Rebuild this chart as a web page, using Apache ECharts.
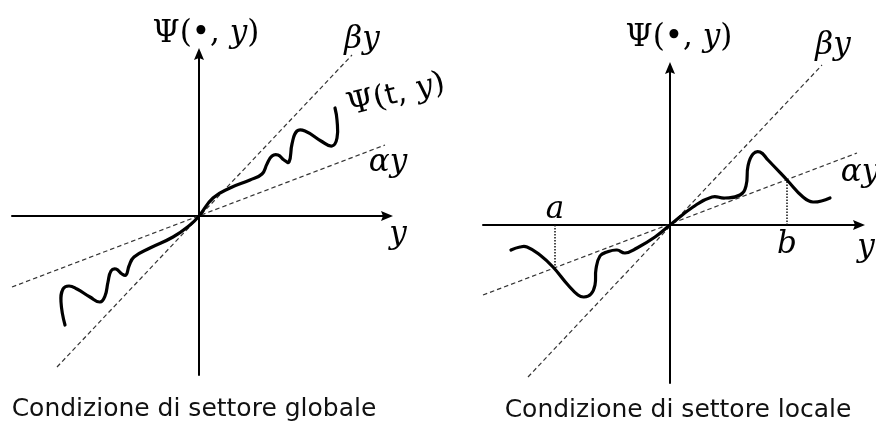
<!DOCTYPE html>
<html>
<head>
<meta charset="utf-8">
<script src="https://cdn.jsdelivr.net/npm/echarts@6/dist/echarts.min.js"></script>
<style>
  html, body { margin: 0; padding: 0; background: #fff; }
  #chart { width: 876px; height: 423px; }
</style>
</head>
<body>
<div id="chart"></div>
<script>
// Sector conditions: global (left) and local (right).
// Units: both panels use the same scale, origin at the axes' crossing.

// ---- global sector panel ----
const globalCurve = [
  [-13.4, -10.9], [-13.8, -8.6], [-13.6, -7.3], [-13.0, -7.0], [-12.2, -7.3],
  [-10.9, -8.1], [-9.9, -8.6], [-9.4, -8.0], [-9.1, -6.6], [-8.8, -5.5],
  [-8.3, -5.3], [-7.7, -5.8], [-7.3, -5.9], [-7.0, -5.0], [-6.5, -4.1],
  [-4.9, -3.2], [-2.6, -2.1], [-0.9, -0.9],
  [0, 0], [1.4, 1.8], [3.1, 2.8], [5.1, 3.6], [6.3, 4.2], [6.8, 5.2],
  [7.3, 6.0], [7.9, 6.1], [8.5, 5.6], [9.0, 5.4], [9.3, 7.2], [9.8, 8.5],
  [10.6, 8.5], [12.2, 7.5], [13.3, 7.0], [13.8, 7.8], [13.8, 9.6], [13.6, 10.8]
];
const globalBeta = [[-14.2, -15.1], [15.3, 16.1]];
const globalAlpha = [[-18.7, -7.1], [18.6, 7.1]];

// ---- local sector panel ----
const localCurve = [
  [-15.9, -2.5], [-15.0, -2.2], [-14.3, -2.2], [-13.0, -3.0], [-11.7, -4.2],
  [-10.2, -6.0], [-9.2, -7.0], [-8.6, -7.2], [-7.9, -6.9], [-7.5, -6.0],
  [-7.4, -4.4], [-7.0, -3.1], [-6.3, -2.7], [-5.3, -2.5], [-4.5, -2.8],
  [-3.3, -2.3], [-1.5, -1.2],
  [0, 0], [2.3, 1.8], [4.2, 2.8], [5.5, 2.7], [7.0, 3.0], [7.6, 3.9],
  [7.8, 5.9], [8.3, 7.1], [9.0, 7.3], [9.8, 6.5], [11.7, 4.5], [13.3, 2.8],
  [14.3, 2.3], [16.0, 2.7]
];
const localBeta = [[-14.2, -15.2], [15.2, 16.0]];
const localAlpha = [[-18.7, -7.0], [18.7, 7.2]];
// sector bounds a, b and where alpha*y meets them
const sectorA = -11.5, sectorACross = -4.3;
const sectorB = 11.7, sectorBCross = 4.5;

// ---- text ----
const captions = ['Condizione di settore globale', 'Condizione di settore locale'];

const MATH = '"DejaVu Serif", "Liberation Serif", serif';
const SANS = '"DejaVu Sans", Verdana, sans-serif';

const rich = {
  u: { fontFamily: MATH, fontSize: 31, color: '#000' },
  i: { fontFamily: MATH, fontSize: 31, fontStyle: 'italic', color: '#000' },
  s: { fontFamily: SANS, fontSize: 29, color: '#000' }
};

// label anchors, in panel units
function mathLabels(items) {
  return items.map(it => ({
    value: it.at,
    label: {
      show: true, position: 'inside', formatter: it.text,
      color: '#000', textBorderWidth: 0,
      rotate: it.rotate || 0, rich: rich
    }
  }));
}

const globalLabels = mathLabels([
  { at: [0.7, 18.2], text: '{u|Ψ(•, }{i|y}{u|)}' },
  { at: [16.3, 17.6], text: '{i|βy}' },
  { at: [19.7, 12.1], text: '{u|Ψ(}{s|t}{u|, }{i|y}{u|)}', rotate: 14 },
  { at: [18.9, 5.3], text: '{i|αy}' },
  { at: [19.9, -1.9], text: '{i|y}' }
]);
const localLabels = mathLabels([
  { at: [0.9, 18.7], text: '{u|Ψ(•, }{i|y}{u|)}' },
  { at: [16.3, 17.9], text: '{i|βy}' },
  { at: [19.0, 5.2], text: '{i|αy}' },
  { at: [19.6, -2.3], text: '{i|y}' },
  { at: [sectorA, 1.5], text: '{i|a}' },
  { at: [sectorB, -2.0], text: '{i|b}' }
]);

const ARROW = 'path://M5,0L10,12L5,10L0,12Z';

function axisBase(gridIndex) {
  return {
    type: 'value', gridIndex: gridIndex,
    axisLine: {
      show: true, onZero: true,
      symbol: ['none', ARROW], symbolSize: [10, 13],
      lineStyle: { color: '#000', width: 2 }
    },
    axisTick: { show: false }, axisLabel: { show: false },
    splitLine: { show: false }
  };
}

const xBounds = [[-18.7, 18.8], [-18.7, 18.9]];
const yBounds = [[-15.9, 16.2], [-15.8, 15.7]];

const chart = echarts.init(document.getElementById('chart'), null, { renderer: 'canvas' });

function dashLine(data, gi) {
  return {
    type: 'line', xAxisIndex: gi, yAxisIndex: gi, data: data,
    showSymbol: false, symbol: 'none', silent: true, clip: false,
    lineStyle: { color: '#333', width: 1.2, type: [4.5, 3] }, z: 2
  };
}
// wavy response curve: one smooth polyline through all points, placed by the axes
function curve(data, gi) {
  return {
    type: 'custom', xAxisIndex: gi, yAxisIndex: gi, data: data,
    silent: true, clip: false, z: 3,
    encode: { x: 0, y: 1 },
    renderItem: function (params, api) {
      if (params.dataIndex !== 0) return null;
      const pts = data.map(p => api.coord(p));
      return {
        type: 'polyline',
        shape: { points: pts, smooth: 0.45 },
        style: { stroke: '#000', lineWidth: 3.2, fill: null, lineCap: 'round', lineJoin: 'round' }
      };
    }
  };
}
function dotted(data, gi) {
  return {
    type: 'line', xAxisIndex: gi, yAxisIndex: gi, data: data,
    showSymbol: false, symbol: 'none', silent: true, clip: false,
    lineStyle: { color: '#111', width: 1.5, type: [1.5, 1.5] }, z: 2
  };
}
function labels(data, gi) {
  return {
    type: 'scatter', xAxisIndex: gi, yAxisIndex: gi, data: data,
    symbolSize: 1, itemStyle: { color: 'rgba(0,0,0,0)', opacity: 1 },
    silent: true, clip: false, z: 5
  };
}

chart.setOption({
  animation: false,
  backgroundColor: '#fff',
  grid: [
    { left: 12, top: 54, width: 375, height: 321 },
    { left: 483, top: 68, width: 376, height: 315 }
  ],
  xAxis: [0, 1].map(i => Object.assign(axisBase(i), { min: xBounds[i][0], max: xBounds[i][1] })),
  yAxis: [0, 1].map(i => Object.assign(axisBase(i), { min: yBounds[i][0], max: yBounds[i][1] })),
  graphic: [
    { type: 'text', x: 194, y: 409, silent: true,
      style: { text: captions[0], align: 'center', verticalAlign: 'middle',
               font: '25px ' + SANS, fill: '#111' } },
    { type: 'text', x: 678, y: 410, silent: true,
      style: { text: captions[1], align: 'center', verticalAlign: 'middle',
               font: '25px ' + SANS, fill: '#111' } }
  ],
  series: [
    dashLine(globalBeta, 0),
    dashLine(globalAlpha, 0),
    curve(globalCurve, 0),
    labels(globalLabels, 0),
    dashLine(localBeta, 1),
    dashLine(localAlpha, 1),
    dotted([[sectorA, 0], [sectorA, sectorACross]], 1),
    dotted([[sectorB, 0], [sectorB, sectorBCross]], 1),
    curve(localCurve, 1),
    labels(localLabels, 1)
  ]
});
</script>
</body>
</html>
